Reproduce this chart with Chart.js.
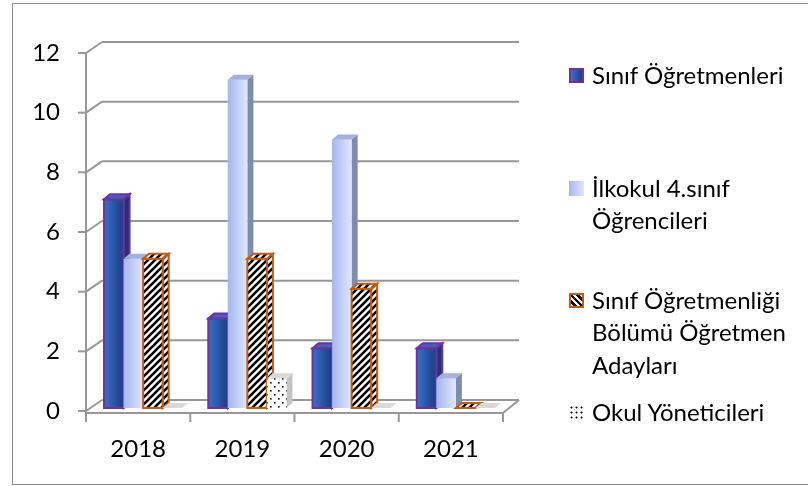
<!DOCTYPE html>
<html>
<head>
<meta charset="utf-8">
<script src="https://cdn.jsdelivr.net/npm/chart.js@4.4.0/dist/chart.umd.min.js"></script>
<style>
  body { margin: 0; background: #fff; width: 808px; height: 486px; overflow: hidden; position: relative; font-family: Lato, 'Open Sans', sans-serif; }
  #frame { position: absolute; left: 12px; top: 3px; width: 820px; height: 482px; border: 1px solid #8c8c8c; box-sizing: border-box; }
  #c { position: absolute; left: 0; top: 0; }
  .item { position: absolute; left: 569px; }
  .sw { position: absolute; left: 0; width: 15px; height: 15px; box-sizing: border-box; }
  .txt { position: absolute; left: 23px; top: 0; font-size: 24px; line-height: 32.5px; white-space: nowrap; color: #000; }
</style>
</head>
<body>
<div id="frame"></div>
<canvas id="c" width="808" height="486"></canvas>
<div id="legend"></div>
<script>
// chart values
const years = ['2018', '2019', '2020', '2021'];
const sinifOgretmenleri = [7, 3, 2, 2];
const ilkokulOgrencileri = [5, 11, 9, 1];
const ogretmenAdaylari = [5, 5, 4, 0];
const okulYoneticileri = [0, 1, 0, 0];
const yTicks = [0, 2, 4, 6, 8, 10, 12];
const seriesNames = [
    ['Sınıf Öğretmenleri'],
    ['İlkokul 4.sınıf', 'Öğrencileri'],
    ['Sınıf Öğretmenliği', 'Bölümü Öğretmen', 'Adayları'],
    ['Okul Yöneticileri']
];

// fill patterns
function makePattern(draw, size) {
    const c = document.createElement('canvas');
    c.width = size; c.height = size;
    const g = c.getContext('2d');
    g.fillStyle = '#fff';
    g.fillRect(0, 0, size, size);
    draw(g, size);
    return document.getElementById('c').getContext('2d').createPattern(c, 'repeat');
}
const hatch = makePattern((g, s) => {
    g.strokeStyle = '#000';
    g.lineWidth = 2.6;
    g.beginPath();
    g.moveTo(-2, s + 2); g.lineTo(s + 2, -2);
    g.moveTo(-2, 2); g.lineTo(2, -2);
    g.moveTo(s - 2, s + 2); g.lineTo(s + 2, s - 2);
    g.stroke();
}, 7);
const dots = makePattern((g, s) => {
    g.fillStyle = '#000';
    g.fillRect(1, 1, 1.6, 1.6);
    g.fillRect(5, 5, 1.6, 1.6);
}, 8);

const faceStyles = [
    { grad: ['#3b70cc', '#1d3d82'], top: '#3f63b6', side: '#1e3572', border: '#7030a0' },
    { grad: ['#a6b5ee', '#e0e7fb'], top: '#a3b0e0', side: '#7f8bab', border: null },
    { grad: null, front: hatch, top: hatch, side: hatch, border: '#c55a11' },
    { grad: null, front: dots, top: '#d9d9d9', side: '#c4c4c4', border: null }
];

const depthX = 6, depthY = 5;
const shiftX = 5, shiftY = -3;

const wall3d = {
    id: 'wall3d',
    beforeDatasetsDraw(chart) {
        const ctx = chart.ctx, ca = chart.chartArea, ys = chart.scales.y, xs = chart.scales.x;
        const dx = 16, dy = -11;
        ctx.save();
        ctx.strokeStyle = '#979797';
        ctx.lineWidth = 2;
        const line = (a, b, c, d) => { ctx.beginPath(); ctx.moveTo(a, b); ctx.lineTo(c, d); ctx.stroke(); };
        yTicks.forEach(v => {
            const py = ys.getPixelForValue(v);
            line(ca.left - 8, py, ca.left, py);
            line(ca.left, py, ca.left + dx, py + dy);
            line(ca.left + dx, py + dy, ca.right + dx, py + dy);
        });
        line(ca.left, ca.top, ca.left, ca.bottom + 2);
        line(ca.left, ca.bottom + 2, ca.right, ca.bottom + 2);
        line(ca.right, ca.bottom + 2, ca.right + dx, ca.bottom + dy);
        const half = (xs.getPixelForValue(1) - xs.getPixelForValue(0)) / 2;
        for (let i = 0; i <= years.length; i++) {
            const px = xs.getPixelForValue(i) - half;
            line(px, ca.bottom + 2, px, ca.bottom + 11);
        }
        ctx.restore();
    },
    beforeDatasetDraw(chart) {
        chart.ctx.save();
        chart.ctx.translate(shiftX, shiftY);
    },
    afterDatasetDraw(chart) {
        chart.ctx.restore();
    },
    // redraw every bar as a box, left to right so side faces sit behind the next bar
    afterDatasetsDraw(chart) {
        const ctx = chart.ctx;
        ctx.save();
        ctx.translate(shiftX, shiftY);
        const poly = (pts, fill, stroke) => {
            ctx.beginPath();
            ctx.moveTo(pts[0], pts[1]);
            for (let i = 2; i < pts.length; i += 2) ctx.lineTo(pts[i], pts[i + 1]);
            ctx.closePath();
            if (fill) { ctx.fillStyle = fill; ctx.fill(); }
            if (stroke) { ctx.strokeStyle = stroke; ctx.lineWidth = 2; ctx.stroke(); }
        };
        for (let j = 0; j < years.length; j++) {
            chart.data.datasets.forEach((ds, k) => {
                const st = faceStyles[k];
                const el = chart.getDatasetMeta(k).data[j];
                const p = el.getProps(['x', 'y', 'base', 'width'], true);
                const x0 = p.x - p.width / 2, x1 = p.x + p.width / 2;
                const top = Math.min(p.y, p.base), bot = Math.max(p.y, p.base);
                let front = st.front;
                if (st.grad) {
                    front = ctx.createLinearGradient(x0, 0, x1, 0);
                    front.addColorStop(0, st.grad[0]);
                    front.addColorStop(1, st.grad[1]);
                }
                if (bot - top > 0.5) {
                    poly([x1, bot, x1 + depthX, bot - depthY, x1 + depthX, top - depthY, x1, top], st.side, st.border);
                    poly([x0, top, x1, top, x1, bot, x0, bot], front, st.border);
                }
                poly([x0, top, x1, top, x1 + depthX, top - depthY, x0 + depthX, top - depthY], st.top, st.border);
            });
        }
        ctx.restore();
    }
};

new Chart(document.getElementById('c'), {
    type: 'bar',
    data: {
        labels: years,
        datasets: [
            { label: seriesNames[0].join(' '), data: sinifOgretmenleri, backgroundColor: '#2d57a8', borderWidth: 0 },
            { label: seriesNames[1].join(' '), data: ilkokulOgrencileri, backgroundColor: '#c2cdf2', borderWidth: 0 },
            { label: seriesNames[2].join(' '), data: ogretmenAdaylari, backgroundColor: hatch, borderWidth: 0 },
            { label: seriesNames[3].join(' '), data: okulYoneticileri, backgroundColor: dots, borderWidth: 0 }
        ]
    },
    options: {
        responsive: false,
        animation: false,
        layout: { padding: { left: 0, top: 53, right: 305, bottom: 0 } },
        datasets: { bar: { categoryPercentage: 0.75, barPercentage: 1 } },
        plugins: { legend: { display: false }, tooltip: { enabled: false } },
        scales: {
            x: {
                grid: { display: false, drawTicks: false },
                border: { display: false },
                ticks: { color: '#000', font: { family: 'Lato', size: 24 }, padding: 24 },
                afterFit(s) { s.height = 75; }
            },
            y: {
                min: 0, max: 12,
                afterBuildTicks(s) { s.ticks = yTicks.map(v => ({ value: v })); },
                grid: { display: false, drawTicks: false },
                border: { display: false },
                ticks: { color: '#000', font: { family: 'Lato', size: 24 }, padding: 26 },
                afterFit(s) { s.width = 86; }
            }
        }
    },
    plugins: [wall3d]
});

// legend as html text
const swatches = [
    'background:linear-gradient(to right,#3b70cc,#1d3d82);border:2px solid #7030a0;',
    'background:linear-gradient(to right,#a6b5ee,#e0e7fb);',
    'background:repeating-linear-gradient(45deg,#fff 0 2px,#000 2px 4.5px);border:2px solid #c55a11;',
    'background:radial-gradient(circle,#000 0.8px,transparent 1.2px) 0 0/5px 5px;'
];
const legendY = [75, 188, 300, 412];
const legend = document.getElementById('legend');
seriesNames.forEach((lines, i) => {
    const item = document.createElement('div');
    item.className = 'item';
    item.style.top = (legendY[i] - 16.25) + 'px';
    item.innerHTML = '<div class="sw" style="top:9px;' + swatches[i] + '"></div><div class="txt">' + lines.join('<br>') + '</div>';
    legend.appendChild(item);
});
</script>
</body>
</html>
